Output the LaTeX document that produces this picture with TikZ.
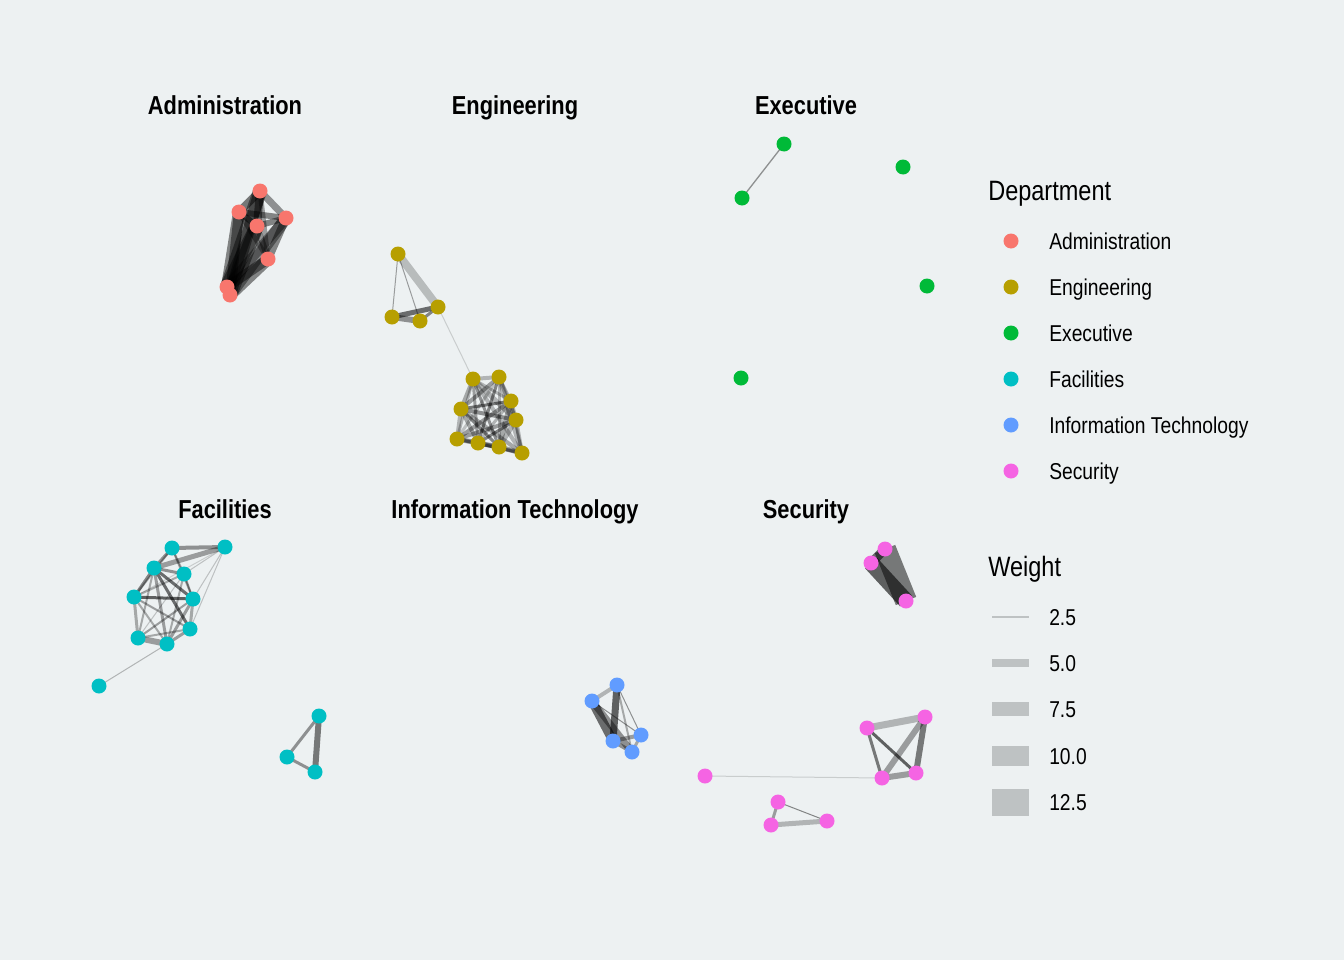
\documentclass[tikz,border=0pt]{standalone}
\usepackage{fontspec}
\setmainfont{Liberation Sans}[FakeStretch=0.84]
\definecolor{bgc}{HTML}{EDF1F2}
\definecolor{adm}{HTML}{F8766D}
\definecolor{eng}{HTML}{B79F00}
\definecolor{exe}{HTML}{00BA38}
\definecolor{fac}{HTML}{00BFC4}
\definecolor{itc}{HTML}{619CFF}
\definecolor{sec}{HTML}{F564E3}
\definecolor{keyc}{HTML}{BEC2C3}
\pgfdeclarelayer{bglayer}
\pgfdeclarelayer{edgelayer}
\pgfsetlayers{bglayer,edgelayer,main}
\tikzset{
  pt/.style={circle, fill=#1, draw=none, minimum size=11.25pt, inner sep=0pt},
  ed/.style 2 args={draw=black, draw opacity=#1, line width=#2*0.75pt, line cap=butt},
  ttl/.style={font=\bfseries\fontsize{19.5}{22}\selectfont, inner sep=0pt, anchor=base},
  lgt/.style={font=\fontsize{21}{24}\selectfont, anchor=base west, inner sep=0pt},
  lgl/.style={font=\fontsize{17.2}{20}\selectfont, anchor=base west, inner sep=0pt},
  keyline/.style={draw=keyc, line width=#1*0.75pt, line cap=butt},
}
\begin{document}
\begin{tikzpicture}[x=0.75pt,y=-0.75pt]
\begin{pgfonlayer}{bglayer}
\fill[bgc] (0,0) rectangle (1344,960);
\end{pgfonlayer}
\useasboundingbox (0,0) rectangle (1344,960);

% titles
\node[ttl] (t1) at (225,114) {Administration};
\node[ttl] (t2) at (515,114) {Engineering};
\node[ttl] (t3) at (806,114) {Executive};
\node[ttl] (t4) at (225,518) {Facilities};
\node[ttl] (t5) at (515,518) {Information Technology};
\node[ttl] (t6) at (806,518) {Security};

% Administration nodes
\node[pt=adm] (a1) at (260,191) {};
\node[pt=adm] (a2) at (239,212) {};
\node[pt=adm] (a3) at (286,218) {};
\node[pt=adm] (a4) at (257,226) {};
\node[pt=adm] (a5) at (268,259) {};
\node[pt=adm] (a6) at (227,287) {};
\node[pt=adm] (a7) at (230,295) {};

% Engineering nodes
\node[pt=eng] (e1) at (398,254) {};
\node[pt=eng] (e2) at (438,307) {};
\node[pt=eng] (e3) at (392,317) {};
\node[pt=eng] (e4) at (420,321) {};
\node[pt=eng] (e5) at (473,379) {};
\node[pt=eng] (e6) at (499,377) {};
\node[pt=eng] (e7) at (511,401) {};
\node[pt=eng] (e8) at (461,409) {};
\node[pt=eng] (e9) at (516,420) {};
\node[pt=eng] (e10) at (457,439) {};
\node[pt=eng] (e11) at (478,443) {};
\node[pt=eng] (e12) at (499,447) {};
\node[pt=eng] (e13) at (522,453) {};

% Executive nodes
\node[pt=exe] (x1) at (784,144) {};
\node[pt=exe] (x2) at (742,198) {};
\node[pt=exe] (x3) at (903,167) {};
\node[pt=exe] (x4) at (927,286) {};
\node[pt=exe] (x5) at (741,378) {};

% Facilities nodes
\node[pt=fac] (f1) at (172,548) {};
\node[pt=fac] (f2) at (225,547) {};
\node[pt=fac] (f3) at (154,568) {};
\node[pt=fac] (f4) at (184,574) {};
\node[pt=fac] (f5) at (134,597) {};
\node[pt=fac] (f6) at (193,599) {};
\node[pt=fac] (f7) at (190,629) {};
\node[pt=fac] (f8) at (138,638) {};
\node[pt=fac] (f9) at (167,644) {};
\node[pt=fac] (f10) at (99,686) {};
\node[pt=fac] (f11) at (319,716) {};
\node[pt=fac] (f12) at (287,757) {};
\node[pt=fac] (f13) at (315,772) {};

% IT nodes
\node[pt=itc] (i1) at (617,685) {};
\node[pt=itc] (i2) at (592,701) {};
\node[pt=itc] (i3) at (641,735) {};
\node[pt=itc] (i4) at (613,741) {};
\node[pt=itc] (i5) at (632,752) {};

% Security nodes
\node[pt=sec] (s1) at (885,549) {};
\node[pt=sec] (s2) at (871,563) {};
\node[pt=sec] (s3) at (906,601) {};
\node[pt=sec] (s4) at (867,728) {};
\node[pt=sec] (s5) at (925,717) {};
\node[pt=sec] (s6) at (882,778) {};
\node[pt=sec] (s7) at (916,773) {};
\node[pt=sec] (s8) at (705,776) {};
\node[pt=sec] (s9) at (778,802) {};
\node[pt=sec] (s10) at (771,825) {};
\node[pt=sec] (s11) at (827,821) {};

\begin{pgfonlayer}{edgelayer}
% Administration edges
\draw[ed={0.45}{14}] (a6.center) -- (a1.center);
\draw[ed={0.45}{12}] (a7.center) -- (a1.center);
\draw[ed={0.45}{12}] (a6.center) -- (a2.center);
\draw[ed={0.45}{10}] (a7.center) -- (a2.center);
\draw[ed={0.45}{14}] (a6.center) -- (a4.center);
\draw[ed={0.45}{14}] (a7.center) -- (a4.center);
\draw[ed={0.4}{10}] (a6.center) -- (a3.center);
\draw[ed={0.4}{12}] (a7.center) -- (a3.center);
\draw[ed={0.45}{10}] (a6.center) -- (a5.center);
\draw[ed={0.45}{12}] (a7.center) -- (a5.center);
\draw[ed={0.5}{8}] (a6.center) -- (a7.center);
\draw[ed={0.5}{8}] (a1.center) -- (a2.center);
\draw[ed={0.4}{7}] (a1.center) -- (a3.center);
\draw[ed={0.5}{8}] (a1.center) -- (a4.center);
\draw[ed={0.5}{6}] (a2.center) -- (a4.center);
\draw[ed={0.45}{6}] (a2.center) -- (a3.center);
\draw[ed={0.45}{6}] (a3.center) -- (a4.center);
\draw[ed={0.45}{8}] (a3.center) -- (a5.center);
\draw[ed={0.4}{6}] (a4.center) -- (a5.center);
\draw[ed={0.35}{5}] (a1.center) -- (a5.center);
\draw[ed={0.35}{5}] (a2.center) -- (a5.center);

% Engineering edges
\draw[ed={0.22}{8}] (e1.center) -- (e2.center);
\draw[ed={0.35}{1}] (e1.center) -- (e3.center);
\draw[ed={0.35}{1}] (e1.center) -- (e4.center);
\draw[ed={0.55}{5}] (e3.center) -- (e2.center);
\draw[ed={0.4}{6}] (e3.center) -- (e4.center);
\draw[ed={0.45}{3}] (e4.center) -- (e2.center);
\draw[ed={0.15}{1}] (e2.center) -- (e5.center);
\draw[ed={0.25}{4}] (e5.center) -- (e6.center);
\draw[ed={0.25}{3}] (e5.center) -- (e7.center);
\draw[ed={0.3}{4}] (e5.center) -- (e8.center);
\draw[ed={0.25}{5}] (e5.center) -- (e9.center);
\draw[ed={0.25}{3}] (e5.center) -- (e10.center);
\draw[ed={0.35}{3}] (e5.center) -- (e11.center);
\draw[ed={0.4}{3}] (e5.center) -- (e12.center);
\draw[ed={0.25}{4}] (e5.center) -- (e13.center);
\draw[ed={0.25}{3}] (e6.center) -- (e7.center);
\draw[ed={0.35}{4}] (e6.center) -- (e8.center);
\draw[ed={0.25}{4}] (e6.center) -- (e9.center);
\draw[ed={0.2}{3}] (e6.center) -- (e10.center);
\draw[ed={0.45}{3}] (e6.center) -- (e11.center);
\draw[ed={0.25}{3}] (e6.center) -- (e12.center);
\draw[ed={0.25}{5}] (e6.center) -- (e13.center);
\draw[ed={0.5}{3}] (e7.center) -- (e8.center);
\draw[ed={0.25}{4}] (e7.center) -- (e9.center);
\draw[ed={0.35}{4}] (e7.center) -- (e10.center);
\draw[ed={0.25}{3}] (e7.center) -- (e11.center);
\draw[ed={0.3}{5}] (e7.center) -- (e12.center);
\draw[ed={0.25}{3}] (e7.center) -- (e13.center);
\draw[ed={0.4}{4}] (e8.center) -- (e9.center);
\draw[ed={0.25}{4}] (e8.center) -- (e10.center);
\draw[ed={0.3}{4}] (e8.center) -- (e11.center);
\draw[ed={0.45}{3}] (e8.center) -- (e12.center);
\draw[ed={0.3}{4}] (e8.center) -- (e13.center);
\draw[ed={0.35}{4}] (e9.center) -- (e10.center);
\draw[ed={0.45}{3}] (e9.center) -- (e11.center);
\draw[ed={0.25}{5}] (e9.center) -- (e12.center);
\draw[ed={0.25}{4}] (e9.center) -- (e13.center);
\draw[ed={0.3}{5}] (e10.center) -- (e11.center);
\draw[ed={0.25}{4}] (e10.center) -- (e12.center);
\draw[ed={0.4}{3}] (e10.center) -- (e13.center);
\draw[ed={0.3}{5}] (e11.center) -- (e12.center);
\draw[ed={0.25}{4}] (e11.center) -- (e13.center);
\draw[ed={0.3}{5}] (e12.center) -- (e13.center);

% Executive edges
\draw[ed={0.4}{1.3}] (x1.center) -- (x2.center);

% Facilities edges
\draw[ed={0.4}{4}] (f1.center) -- (f2.center);
\draw[ed={0.35}{5}] (f3.center) -- (f2.center);
\draw[ed={0.4}{3}] (f1.center) -- (f3.center);
\draw[ed={0.3}{2}] (f1.center) -- (f4.center);
\draw[ed={0.3}{2}] (f1.center) -- (f6.center);
\draw[ed={0.3}{2}] (f1.center) -- (f5.center);
\draw[ed={0.4}{3}] (f3.center) -- (f4.center);
\draw[ed={0.45}{3}] (f3.center) -- (f5.center);
\draw[ed={0.55}{3}] (f3.center) -- (f6.center);
\draw[ed={0.55}{3}] (f3.center) -- (f7.center);
\draw[ed={0.3}{2}] (f3.center) -- (f8.center);
\draw[ed={0.35}{3}] (f3.center) -- (f9.center);
\draw[ed={0.4}{2}] (f4.center) -- (f6.center);
\draw[ed={0.3}{2}] (f4.center) -- (f5.center);
\draw[ed={0.2}{1}] (f4.center) -- (f8.center);
\draw[ed={0.3}{2}] (f4.center) -- (f9.center);
\draw[ed={0.6}{3}] (f5.center) -- (f6.center);
\draw[ed={0.35}{2}] (f5.center) -- (f7.center);
\draw[ed={0.3}{3}] (f5.center) -- (f8.center);
\draw[ed={0.3}{2}] (f5.center) -- (f9.center);
\draw[ed={0.3}{3}] (f6.center) -- (f7.center);
\draw[ed={0.35}{2}] (f6.center) -- (f8.center);
\draw[ed={0.35}{3}] (f6.center) -- (f9.center);
\draw[ed={0.35}{3}] (f7.center) -- (f9.center);
\draw[ed={0.3}{2}] (f7.center) -- (f8.center);
\draw[ed={0.35}{6}] (f8.center) -- (f9.center);
\draw[ed={0.2}{1}] (f2.center) -- (f4.center);
\draw[ed={0.2}{1}] (f2.center) -- (f6.center);
\draw[ed={0.2}{1}] (f2.center) -- (f7.center);
\draw[ed={0.15}{1}] (f2.center) -- (f5.center);
\draw[ed={0.25}{1}] (f9.center) -- (f10.center);
\draw[ed={0.5}{6}] (f11.center) -- (f13.center);
\draw[ed={0.4}{3}] (f11.center) -- (f12.center);
\draw[ed={0.4}{3}] (f12.center) -- (f13.center);

% IT edges
\draw[ed={0.55}{9}] (i2.center) -- (i4.center);
\draw[ed={0.4}{7}] (i2.center) -- (i5.center);
\draw[ed={0.6}{7}] (i1.center) -- (i4.center);
\draw[ed={0.25}{4}] (i1.center) -- (i2.center);
\draw[ed={0.4}{1}] (i1.center) -- (i3.center);
\draw[ed={0.4}{1}] (i2.center) -- (i3.center);
\draw[ed={0.35}{4}] (i4.center) -- (i3.center);
\draw[ed={0.4}{4}] (i4.center) -- (i5.center);
\draw[ed={0.3}{3}] (i5.center) -- (i3.center);
\draw[ed={0.3}{2}] (i1.center) -- (i5.center);

% Security edges
\draw[ed={0.5}{22}] (s1.center) -- (s3.center);
\draw[ed={0.6}{16}] (s2.center) -- (s3.center);
\draw[ed={0.55}{9}] (s1.center) -- (s2.center);
\draw[ed={0.25}{7}] (s4.center) -- (s5.center);
\draw[ed={0.6}{3}] (s4.center) -- (s7.center);
\draw[ed={0.5}{3}] (s4.center) -- (s6.center);
\draw[ed={0.35}{6}] (s5.center) -- (s6.center);
\draw[ed={0.5}{6}] (s5.center) -- (s7.center);
\draw[ed={0.35}{6}] (s6.center) -- (s7.center);
\draw[ed={0.15}{1}] (s8.center) -- (s6.center);
\draw[ed={0.35}{3}] (s9.center) -- (s10.center);
\draw[ed={0.45}{1}] (s9.center) -- (s11.center);
\draw[ed={0.25}{5}] (s10.center) -- (s11.center);
\end{pgfonlayer}

% Department legend
\node[lgt] (lg1) at (988,200) {Department};
\node[pt=adm] (k1) at (1011,241) {};
\node[pt=eng] (k2) at (1011,287) {};
\node[pt=exe] (k3) at (1011,333) {};
\node[pt=fac] (k4) at (1011,379) {};
\node[pt=itc] (k5) at (1011,425) {};
\node[pt=sec] (k6) at (1011,471) {};
\node[lgl] (l1) at (1049,249) {Administration};
\node[lgl] (l2) at (1049,295) {Engineering};
\node[lgl] (l3) at (1049,341) {Executive};
\node[lgl] (l4) at (1049,387) {Facilities};
\node[lgl] (l5) at (1049,433) {Information Technology};
\node[lgl] (l6) at (1049,479) {Security};

% Weight legend
\node[lgt] (lg2) at (988,576) {Weight};
\coordinate (wa1) at (992,617); \coordinate (wb1) at (1029,617);
\coordinate (wa2) at (992,663); \coordinate (wb2) at (1029,663);
\coordinate (wa3) at (992,709); \coordinate (wb3) at (1029,709);
\coordinate (wa4) at (992,756); \coordinate (wb4) at (1029,756);
\coordinate (wa5) at (992,802); \coordinate (wb5) at (1029,802);
\draw[keyline=1.5] (wa1) -- (wb1);
\draw[keyline=8] (wa2) -- (wb2);
\draw[keyline=14] (wa3) -- (wb3);
\draw[keyline=20] (wa4) -- (wb4);
\draw[keyline=27] (wa5) -- (wb5);
\node[lgl] (w1) at (1049,625) {2.5};
\node[lgl] (w2) at (1049,671) {5.0};
\node[lgl] (w3) at (1049,717) {7.5};
\node[lgl] (w4) at (1049,764) {10.0};
\node[lgl] (w5) at (1049,810) {12.5};
\end{tikzpicture}
\end{document}
